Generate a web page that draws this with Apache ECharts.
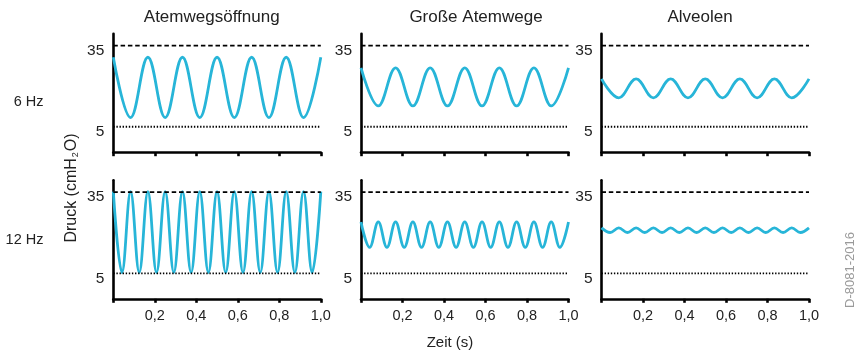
<!DOCTYPE html>
<html><head><meta charset="utf-8">
<script src="https://cdn.jsdelivr.net/npm/echarts@6/dist/echarts.min.js"></script>
<style>html,body{margin:0;padding:0;background:#fff}#c{width:858px;height:351px}</style>
</head><body><div id="c"></div>
<script>
// ---- data ----
const columnTitles = ['Atemwegsöffnung', 'Große Atemwege', 'Alveolen'];
const rowLabels = ['6 Hz', '12 Hz'];
const xTicks = [0, 0.2, 0.4, 0.6, 0.8, 1.0];
const yTickLabels = [5, 35];
const upperLimit = 35;   // dashed line
const lowerLimit = 5;    // dotted line
// sample times (s) at the wave extremes
const time6 = [0, 0.0833, 0.1667, 0.25, 0.3333, 0.4167, 0.5, 0.5833, 0.6667, 0.75, 0.8333, 0.9167, 1.0];
const time12 = [0, 0.0417, 0.0833, 0.125, 0.1667, 0.2083, 0.25, 0.2917, 0.3333, 0.375, 0.4167, 0.4583, 0.5,
  0.5417, 0.5833, 0.625, 0.6667, 0.7083, 0.75, 0.7917, 0.8333, 0.875, 0.9167, 0.9583, 1.0];
// pressure (cmH2O) at the extremes
const hz6Airway = [30.7, 8.4, 30.7, 8.4, 30.7, 8.4, 30.7, 8.4, 30.7, 8.4, 30.7, 8.4, 30.7];
const hz6Large = [26.8, 12.7, 26.8, 12.7, 26.8, 12.7, 26.8, 12.7, 26.8, 12.7, 26.8, 12.7, 26.8];
const hz6Alveoli = [22.7, 15.7, 22.7, 15.7, 22.7, 15.7, 22.7, 15.7, 22.7, 15.7, 22.7, 15.7, 22.7];
const hz12Airway = [35.2, 5.3, 35.2, 5.3, 35.2, 5.3, 35.2, 5.3, 35.2, 5.3, 35.2, 5.3, 35.2,
  5.3, 35.2, 5.3, 35.2, 5.3, 35.2, 5.3, 35.2, 5.3, 35.2, 5.3, 35.2];
const hz12Large = [24.0, 14.6, 24.0, 14.6, 24.0, 14.6, 24.0, 14.6, 24.0, 14.6, 24.0, 14.6, 24.0,
  14.6, 24.0, 14.6, 24.0, 14.6, 24.0, 14.6, 24.0, 14.6, 24.0, 14.6, 24.0];
const hz12Alveoli = [21.8, 20.1, 21.8, 20.1, 21.8, 20.1, 21.8, 20.1, 21.8, 20.1, 21.8, 20.1, 21.8,
  20.1, 21.8, 20.1, 21.8, 20.1, 21.8, 20.1, 21.8, 20.1, 21.8, 20.1, 21.8];

// ---- layout ----
const FONT = 'Liberation Sans, Arial, sans-serif';
const colLeft = [113.3, 361, 601.5];
const colWidth = 207.5;
const rowTop = [33.7, 180.3];
const rowHeight = 118.5;
const waveColor = '#27b5d8';

const panels = [
  [time6, [hz6Airway, hz6Large, hz6Alveoli]],
  [time12, [hz12Airway, hz12Large, hz12Alveoli]]
];

const grid = [], xAxis = [], yAxis = [], series = [];
let gi = 0;
for (let r = 0; r < 2; r++) {
  for (let c = 0; c < 3; c++) {
    grid.push({left: colLeft[c], top: rowTop[r], width: colWidth, height: rowHeight, containLabel: false});
    xAxis.push({
      gridIndex: gi, type: 'value', min: 0, max: 1, interval: 0.2,
      axisLine: {show: true, onZero: false, lineStyle: {color: '#000', width: 2.6}},
      axisTick: {show: true, inside: false, length: 4, lineStyle: {color: '#000', width: 2.6}},
      axisLabel: {
        show: r === 1, margin: 10, fontSize: 14.5, color: '#222', fontFamily: FONT,
        formatter: v => v === 0 ? '' : v.toFixed(1).replace('.', ',')
      },
      splitLine: {show: false}
    });
    yAxis.push({
      gridIndex: gi, type: 'value', min: -4.4, max: 39.4,
      axisLine: {show: true, onZero: false, lineStyle: {color: '#000', width: 2.6}},
      axisTick: {show: false},
      axisLabel: {
        show: true, customValues: yTickLabels, margin: 9, fontSize: 15.5, color: '#222',
        fontFamily: FONT, verticalAlign: 'top', lineHeight: 10
      },
      splitLine: {show: false}
    });
    const t = panels[r][0], vals = panels[r][1][c];
    series.push({
      type: 'line', xAxisIndex: gi, yAxisIndex: gi, showSymbol: false, smooth: 0.39,
      data: t.map((x, i) => [x, vals[i]]),
      lineStyle: {color: waveColor, width: 2.8}, z: 2, animation: false
    });
    series.push({
      type: 'line', xAxisIndex: gi, yAxisIndex: gi, showSymbol: false,
      data: [[0, upperLimit], [1, upperLimit]],
      lineStyle: {color: '#000', width: 1.8, type: [4.5, 2.8]}, z: 3, animation: false
    });
    series.push({
      type: 'line', xAxisIndex: gi, yAxisIndex: gi, showSymbol: false,
      data: [[0, lowerLimit], [1, lowerLimit]],
      lineStyle: {color: '#000', width: 1.8, type: [1.4, 1.7]}, z: 3, animation: false
    });
    gi++;
  }
}

const titleX = [211.7, 476, 700];
const graphic = [];
columnTitles.forEach((t, i) => graphic.push({
  type: 'text', x: titleX[i], y: 17,
  style: {text: t, font: '17px ' + FONT, fill: '#222', align: 'center', verticalAlign: 'middle'}
}));
const rowLabelY = [101.7, 240];
rowLabels.forEach((t, i) => graphic.push({
  type: 'text', x: 43.5, y: rowLabelY[i],
  style: {text: t, font: '14.5px ' + FONT, fill: '#222', align: 'right', verticalAlign: 'middle'}
}));
graphic.push({
  type: 'text', x: 72, y: 188, rotation: Math.PI / 2,
  style: {
    text: '{a|Druck (cmH}{s|2}{a|O)}', align: 'center', verticalAlign: 'middle',
    rich: {
      a: {fontSize: 16, fontFamily: FONT, fill: '#222', lineHeight: 20, verticalAlign: 'middle'},
      s: {fontSize: 9, fontFamily: FONT, fill: '#222', lineHeight: 20, verticalAlign: 'bottom', padding: [0, 1, 2, 1]}
    }
  }
});
graphic.push({
  type: 'text', x: 450, y: 343,
  style: {text: 'Zeit (s)', font: '15px ' + FONT, fill: '#222', align: 'center', verticalAlign: 'middle'}
});
graphic.push({
  type: 'text', x: 850, y: 270, rotation: Math.PI / 2,
  style: {text: 'D-8081-2016', font: '13px ' + FONT, fill: '#9a9a9a', align: 'center', verticalAlign: 'middle'}
});

const chart = echarts.init(document.getElementById('c'), null, {renderer: 'canvas'});
chart.setOption({
  backgroundColor: '#fff', animation: false,
  grid, xAxis, yAxis, series, graphic
});
</script></body></html>
